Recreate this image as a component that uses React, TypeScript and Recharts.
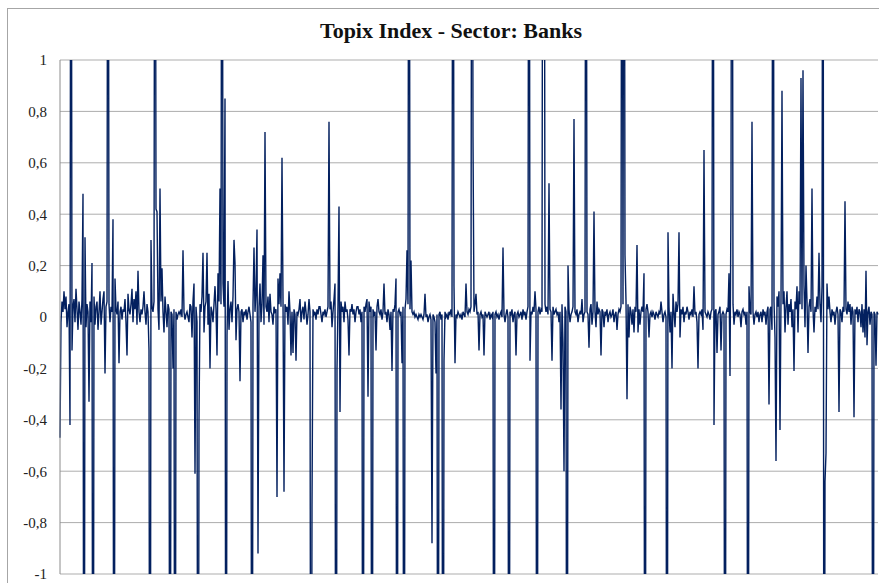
import React from 'react';
import { LineChart, Line, XAxis, YAxis, CartesianGrid } from 'recharts';

// daily moves, one per pixel column (clipped spikes set past the axis range)
const returns: number[] = [
  -0.47, -0.02, 0.06, 0.02, 0.1, 0.03, 0.08, -0.04, 0.02, 0.05, -0.42, 3, -0.13, 0.04, 0.07, -0.02, 0.11, 0.03, -0.05, 0.06,
  0.02, -0.03, 0.07, 0.48, -3, 0.31, -0.04, 0.05, 0.02, -0.33, 0.06, -0.02, 0.21, -3, 0.08, -0.03, 0.04, 0.06, -0.05, 0.02,
  0.1, -0.03, 0.02, 0.07, 0.1, -0.22, 0.04, 0.06, 3, 0.05, -0.02, 0.04, 0.02, 0.38, -3, 0.15, 0.03, 0.01, 0.06, -0.18,
  0.02, 0.04, -0.01, 0.03, 0.02, 0.07, -0.02, -0.15, 0.09, 0.03, 0.01, 0.05, 0.11, -0.02, 0.07, 0.03, 0.1, -0.03, 0.18, 0.02,
  -0.02, 0.03, 0.01, 0.04, 0.1, 0.02, -0.03, 0.05, 0.02, -0.13, -3, 0.3, 0.04, 0.02, 0.06, 3, 0.42, 0.41, 0.03, -0.05,
  0.5, 0.06, 0.19, 0.02, -0.06, 0.08, 0.02, -0.04, 0.05, 0.03, -3, 0.02, 0.01, -0.2, 0.03, -3, 0.02, -0.01, 0.01, 0.02,
  0.01, 0.03, 0.0, 0.26, 0.02, -0.01, 0.01, 0.02, 0.0, -0.02, 0.05, 0.04, -0.08, 0.06, 0.13, -0.61, 0.04, -0.02, -3, -0.4,
  0.05, 0.02, 0.08, 0.25, -0.06, 0.04, 0.06, 0.25, -0.03, 0.09, -0.2, 0.04, 0.02, -0.02, 0.05, 0.12, 0.03, -0.15, 0.17, 0.06,
  0.5, 0.05, 3, 0.13, 0.04, 0.85, -3, -0.07, 0.14, -0.05, 0.03, 0.06, -0.02, 0.08, 0.3, 0.21, -0.09, 0.03, 0.05, 0.02,
  -0.25, 0.02, 0.03, -0.02, 0.02, 0.01, 0.03, -0.01, 0.02, 0.04, 0.01, -0.02, -3, 0.05, 0.27, 0.02, 0.1, 0.34, -0.92, 0.04,
  0.13, -0.02, 0.05, 0.24, -0.03, 0.72, 0.04, 0.02, 0.08, -0.02, 0.09, 0.02, 0.01, -0.03, 0.04, 0.02, 0.03, -0.7, 0.15, 0.05,
  0.17, 0.04, 0.62, 0.07, -0.68, 0.05, 0.02, 0.04, -0.03, 0.1, 0.02, -0.15, 0.02, -0.14, 0.03, 0.01, -0.17, 0.02, 0.01, 0.03,
  0.07, -0.02, 0.02, 0.04, -0.01, 0.06, 0.02, -0.03, 0.01, 0.07, 0.02, -3, -0.73, 0.03, 0.01, 0.02, -0.01, 0.03, 0.01, 0.04,
  0.04, 0.01, -0.02, 0.02, 0.01, 0.03, 0.0, 0.02, 0.04, 0.76, 0.03, 0.06, -0.04, 0.02, 0.07, 0.13, -3, -0.2, 0.05, 0.43,
  -0.37, 0.06, 0.02, 0.04, -0.02, 0.06, 0.02, 0.03, -0.01, -0.15, 0.03, 0.02, 0.05, 0.01, 0.03, -0.02, 0.02, 0.04, 0.04, 0.01,
  0.03, -0.02, 0.02, -3, 0.04, 0.02, 0.05, 0.07, -0.31, 0.06, 0.02, 0.04, -3, 0.03, 0.01, 0.02, -0.13, 0.04, 0.07, 0.02,
  0.01, 0.03, -0.01, 0.02, 0.13, 0.01, 0.02, -0.02, 0.03, 0.01, -0.05, 0.02, -0.21, 0.03, 0.02, 0.05, 0.15, -3, 0.02, 0.03,
  0.01, 0.02, -0.18, 0.04, -3, 0.03, 0.07, 0.26, 0.05, 3, 0.03, 0.22, 0.02, 0.01, 0.02, 0.0, 0.01, 0.0, -0.01, 0.01,
  0.0, 0.01, 0.0, -0.01, 0.01, 0.09, 0.0, 0.01, -0.02, 0.0, 0.01, -0.01, -0.88, 0.01, 0.0, -0.02, -0.22, 0.01, -3, 0.01,
  0.02, -0.01, 0.01, -3, -0.17, 0.02, 0.0, 0.01, -0.01, 0.02, 0.01, 0.03, 0.0, 3, 0.12, -0.18, 0.01, 0.0, 0.02, 0.01,
  0.0, 0.01, -0.01, 0.02, 0.01, 0.0, 0.13, 0.02, 0.01, 0.03, 0.02, 0.04, 3, 0.7, 0.02, 0.05, 0.09, 0.01, 0.02, -0.13,
  0.01, 0.02, 0.0, 0.01, -0.15, 0.02, 0.01, 0.0, 0.01, 0.02, -0.01, 0.01, 0.0, 0.02, -3, 0.01, 0.02, 0.0, 0.01, -0.01,
  0.01, 0.02, 0.0, 0.27, 0.01, -0.02, 0.01, 0.03, 0.0, -3, 0.02, 0.01, 0.03, -0.02, 0.01, 0.02, -0.15, 0.01, 0.02, 0.0,
  0.01, 0.02, -0.01, 0.03, 0.01, 0.02, -0.01, 0.02, 0.04, 3, -0.17, 0.02, 0.01, 0.04, 0.02, 0.1, 0.03, -3, 0.02, 0.04,
  0.01, 0.03, 0.02, 3, 3, 0.05, 0.02, 0.04, 0.01, 0.52, 0.03, 0.02, -0.17, 0.04, 0.01, 0.02, 0.03, 0.01, 0.02, -0.02,
  0.02, -0.36, 0.05, -0.1, -0.6, 0.04, 0.02, -3, 0.2, 0.03, -0.02, 0.01, 0.02, 0.04, 0.77, 0.02, 0.01, 0.03, -0.02, 0.01,
  0.02, 0.01, 0.07, -0.02, 0.01, 0.02, 3, 0.02, 0.01, -0.12, 0.03, 0.05, -0.03, 0.02, 0.41, 0.02, -0.04, 0.06, 0.01, 0.03,
  0.02, -0.15, 0.03, 0.02, -0.04, 0.02, 0.01, 0.03, -0.02, 0.01, 0.02, 0.0, 0.01, 0.03, -0.02, 0.01, 0.02, -0.05, 0.01, 0.03,
  0.02, 0.04, 3, 0.05, 3, 0.24, 0.06, -0.32, 0.05, -0.08, 0.04, 0.02, -0.03, 0.03, -0.06, 0.04, 0.02, 0.28, -0.06, 0.03,
  -0.03, 0.02, 0.04, 0.02, 0.17, -3, 0.03, 0.05, 0.02, -0.08, 0.01, 0.02, 0.0, 0.02, 0.01, -0.01, 0.02, 0.01, 0.0, 0.02,
  0.01, 0.06, 0.02, -0.02, 0.01, 0.02, 0.0, -3, 0.33, 0.04, -0.06, 0.02, -0.2, 0.09, 0.02, -0.04, 0.06, 0.02, 0.05, 0.33,
  -0.08, 0.03, 0.01, 0.04, -0.02, 0.02, 0.01, 0.04, 0.02, -0.01, 0.02, 0.01, 0.03, 0.0, 0.12, 0.01, 0.02, -0.02, -0.2, 0.01,
  0.02, 0.01, 0.03, -0.05, 0.65, 0.02, 0.01, 0.0, 0.02, 0.01, -0.01, 0.02, 0.03, 3, -0.42, 0.02, 0.03, -0.14, 0.01, 0.02,
  0.04, -0.13, 0.01, 0.02, 0.01, -3, 0.01, 0.03, 0.02, 0.17, -0.23, 0.47, 3, 0.05, -0.03, 0.02, 0.01, 0.03, 0.0, 0.02,
  0.01, -0.04, 0.02, 0.03, 0.01, 0.02, -0.03, 0.02, -3, 0.12, 0.02, 0.01, 0.76, 0.02, -0.03, 0.01, 0.02, 0.0, 0.02, -0.02,
  0.01, 0.02, -0.02, 0.03, 0.01, 0.02, -0.03, 0.02, 0.04, -0.34, 0.03, 0.04, -0.05, 3, 0.06, -0.08, -0.56, 0.08, 0.04, 0.1,
  -0.44, 0.07, 0.88, 0.05, 0.1, -0.06, 0.04, 0.1, -0.03, 0.05, 0.02, 0.07, -0.04, 0.03, -0.21, 0.06, 0.03, 0.12, -0.06, 0.1,
  0.05, 0.93, 0.03, 0.96, 0.12, -0.04, 0.2, 0.06, -0.14, 0.04, 0.07, 0.02, 0.5, 0.03, -0.06, 0.04, 0.02, 0.08, 0.03, 0.25,
  0.05, -0.02, 0.12, 3, -3, -0.64, -0.53, 0.13, 0.03, 0.08, 0.02, -0.02, 0.03, 0.01, 0.02, -0.03, 0.02, 0.04, 0.01, -0.37,
  0.03, 0.02, -0.02, 0.04, 0.02, 0.45, 0.03, 0.01, 0.06, 0.02, 0.05, -0.03, 0.04, 0.02, -0.39, 0.03, 0.01, 0.04, -0.02, 0.03,
  0.02, -0.04, 0.05, -0.06, 0.03, -0.08, 0.18, -0.11, 0.02, 0.04, -0.03, 0.02, 0.01, -3, 0.02, 0.01, -0.19, 0.02, 0.01,
];

const yTicks = [-1, -0.8, -0.6, -0.4, -0.2, 0, 0.2, 0.4, 0.6, 0.8, 1];

const data = returns.map((v, i) => ({ day: i + 1, value: v }));

const fmt = (v: number) => String(v).replace('.', ',');

export default function App() {
  return (
    <div style={{ position: 'relative', width: 879, height: 583, overflow: 'hidden', background: '#fff' }}>
      <style>{'body{margin:0;overflow:hidden}'}</style>
      {/* chart frame, runs off the right and bottom of the shot */}
      <div
        style={{
          position: 'absolute',
          left: 7,
          top: 8,
          width: 900,
          height: 600,
          border: '1px solid #a6a6a6',
        }}
      />
      <div
        style={{
          position: 'absolute',
          left: 0,
          width: 902,
          top: 18,
          textAlign: 'center',
          fontFamily: '"Liberation Serif", serif',
          fontWeight: 'bold',
          fontSize: 22,
          color: '#111',
        }}
      >
        Topix Index - Sector: Banks
      </div>
      <div style={{ position: 'absolute', left: 0, top: 0 }}>
        <LineChart width={879} height={583} data={data} margin={{ top: 60, right: 1, left: 10, bottom: 9 }}>
          <CartesianGrid vertical={false} stroke="#adadad" horizontalValues={yTicks} />
          <XAxis dataKey="day" hide padding={{ left: 0, right: 0 }} />
          <YAxis
            domain={[-1, 1]}
            ticks={yTicks}
            allowDataOverflow
            width={50}
            tickLine={false}
            tickSize={0}
            tickMargin={13}
            axisLine={{ stroke: '#8c8c8c' }}
            tickFormatter={fmt}
            tick={{ fill: '#222', fontSize: 15, fontFamily: '"Liberation Serif", serif' }}
          />
          <Line
            type="linear"
            dataKey="value"
            stroke="#03205f"
            strokeWidth={1.4}
            dot={false}
            isAnimationActive={false}
          />
        </LineChart>
      </div>
    </div>
  );
}
